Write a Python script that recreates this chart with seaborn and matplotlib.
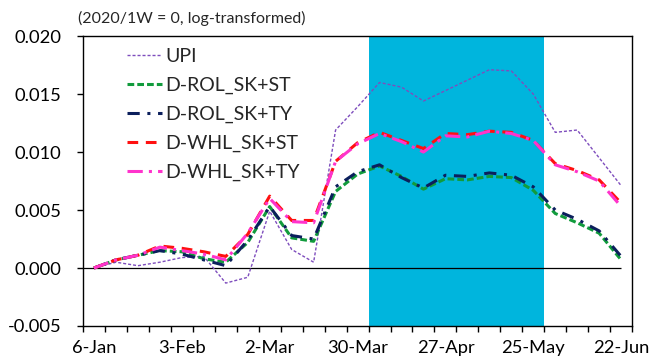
import matplotlib
matplotlib.use("Agg")
import matplotlib.pyplot as plt
import matplotlib.ticker as mticker
import numpy as np
import pandas as pd
import seaborn as sns

# Weekly dates (2020), week starting Monday
weeks = ["6-Jan", "13-Jan", "20-Jan", "27-Jan", "3-Feb", "10-Feb", "17-Feb", "24-Feb",
         "2-Mar", "9-Mar", "16-Mar", "23-Mar", "30-Mar", "6-Apr", "13-Apr", "20-Apr",
         "27-Apr", "4-May", "11-May", "18-May", "25-May", "1-Jun", "8-Jun", "15-Jun", "22-Jun"]

upi = [0.0000, 0.0005, 0.0002, 0.0005, 0.0009, 0.0010, -0.0013, -0.0008, 0.0049, 0.0016,
       0.0005, 0.0119, 0.0139, 0.0160, 0.0156, 0.0144, 0.0153, 0.0162, 0.0171, 0.0170,
       0.0150, 0.0117, 0.0119, 0.0095, 0.0071]
rol_st = [0.0000, 0.0007, 0.0011, 0.0015, 0.0014, 0.0008, 0.0005, 0.0022, 0.0053, 0.0026,
          0.0023, 0.0066, 0.0081, 0.0088, 0.0079, 0.0068, 0.0077, 0.0076, 0.0079, 0.0078,
          0.0067, 0.0047, 0.0039, 0.0030, 0.0007]
rol_ty = [0.0000, 0.0007, 0.0011, 0.0015, 0.0012, 0.0007, 0.0002, 0.0024, 0.0053, 0.0028,
          0.0025, 0.0070, 0.0083, 0.0089, 0.0078, 0.0069, 0.0080, 0.0079, 0.0082, 0.0080,
          0.0070, 0.0050, 0.0042, 0.0032, 0.0010]
whl_st = [0.0000, 0.0007, 0.0011, 0.0019, 0.0017, 0.0014, 0.0010, 0.0029, 0.0062, 0.0041,
          0.0041, 0.0092, 0.0108, 0.0117, 0.0110, 0.0103, 0.0116, 0.0115, 0.0118, 0.0117,
          0.0110, 0.0090, 0.0084, 0.0076, 0.0056]
whl_ty = [0.0000, 0.0007, 0.0011, 0.0018, 0.0015, 0.0012, 0.0007, 0.0030, 0.0060, 0.0040,
          0.0039, 0.0092, 0.0107, 0.0116, 0.0109, 0.0100, 0.0114, 0.0113, 0.0118, 0.0116,
          0.0110, 0.0089, 0.0083, 0.0075, 0.0053]

series_names = ["UPI", "D-ROL_SK+ST", "D-ROL_SK+TY", "D-WHL_SK+ST", "D-WHL_SK+TY"]
series_values = [upi, rol_st, rol_ty, whl_st, whl_ty]
colors = ["#7E4DBD", "#119B3C", "#0B1F5C", "#FF1010", "#FF33CC"]
widths = [1.0, 2.2, 2.2, 2.2, 2.2]
dash_patterns = [(2.2, 1.4), (2.2, 1.0), (4, 2.5, 1, 2.5), (3.5, 2.5), (5, 2, 1, 2)]

# Shaded period
shade_start, shade_end = "6-Apr", "25-May"

tick_labels = weeks[::4]

sns.set_theme(style="white")
plt.rcParams["font.family"] = ["Lato", "DejaVu Sans"]

fig = plt.figure(figsize=(6.51, 3.61), dpi=100)
ax = fig.add_axes([0.1275, 0.097, 0.8435, 0.803])

idx = np.arange(len(weeks))
ax.axvspan(weeks.index(shade_start) - 0.5, weeks.index(shade_end) + 0.5,
           color="#00B5DD", lw=0, zorder=0)
ax.hlines(0, -0.5, len(weeks) - 1, color="black", lw=0.9, zorder=1)

for name, vals, col, lw, dash in zip(series_names, series_values, colors, widths, dash_patterns):
    df = pd.DataFrame({"week": idx, "value": vals})
    sns.lineplot(data=df, x="week", y="value", ax=ax, color=col, lw=lw,
                 label=name, zorder=3)
    ax.lines[-1].set_dashes(dash)

ax.set_xlim(-0.5, len(weeks) - 0.5)
ax.set_ylim(-0.005, 0.020)
ax.yaxis.set_major_locator(mticker.MultipleLocator(0.005))
ax.yaxis.set_major_formatter(mticker.FormatStrFormatter("%.3f"))

ax.set_xticks([weeks.index(t) for t in tick_labels])
ax.set_xticklabels(tick_labels)
ax.set_xticks(np.arange(-0.5, len(weeks)), minor=True)
ax.tick_params(axis="x", which="major", length=0, pad=10, labelsize=13.2, colors="black")
ax.tick_params(axis="x", which="minor", length=4.5, width=1, color="black", direction="out", bottom=True)
ax.tick_params(axis="y", which="major", length=4.5, width=1, color="black", direction="out",
               left=True, labelsize=13.2, pad=11, labelcolor="black")
ax.set_xlabel("")
ax.set_ylabel("")

for sp in ax.spines.values():
    sp.set_color("black")
    sp.set_linewidth(1.0)

leg = ax.legend(loc="upper left", bbox_to_anchor=(0.066, 0.986), frameon=False,
                fontsize=14, handlelength=1.8, handletextpad=0.15, labelspacing=0.6,
                borderaxespad=0.0)
for h, lw, dash in zip(leg.get_lines(), widths, dash_patterns):
    h.set_linewidth(lw)
    h.set_dashes(dash)

fig.text(0.12, 0.948, "(2020/1W = 0, log-transformed)", fontsize=11.5, ha="left", va="center")

fig.savefig("out.png", dpi=100)
